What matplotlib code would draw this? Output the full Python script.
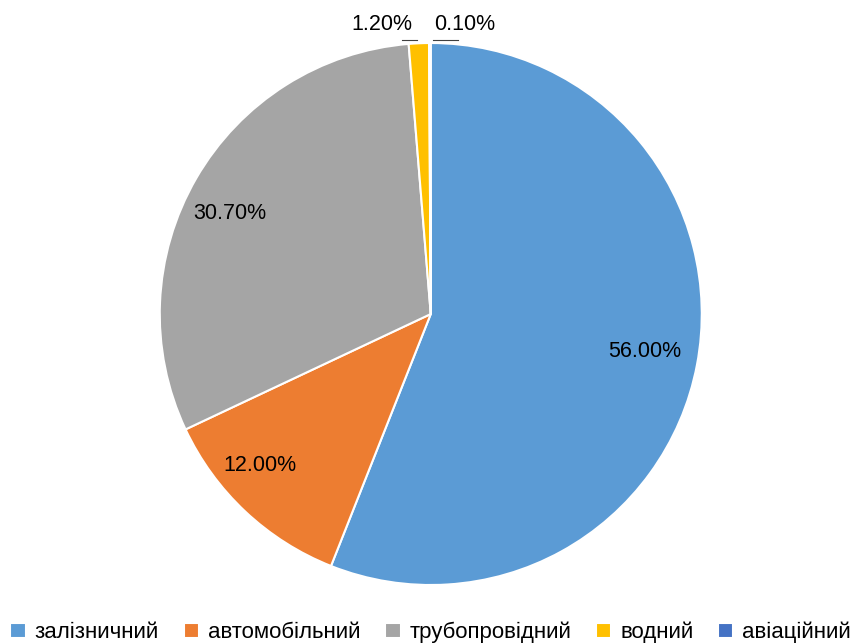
import matplotlib.pyplot as plt
import numpy as np

plt.rcParams['font.family'] = ['Liberation Sans', 'DejaVu Sans']

labels = ['залізничний', 'автомобільний', 'трубопровідний', 'водний', 'авіаційний']
shares = [56.0, 12.0, 30.7, 1.2, 0.1]
colors = ['#5B9BD5', '#ED7D31', '#A5A5A5', '#FFC000', '#4472C4']

fig = plt.figure(figsize=(8.53, 6.44), dpi=100)
ax = fig.add_axes([0.505 - 0.3177, 0.5124 - 0.4208, 0.6354, 0.8416])

wedges, texts, autotexts = ax.pie(shares, colors=colors, startangle=90, counterclock=False,
                                  autopct='%1.2f%%', pctdistance=0.8,
                                  wedgeprops=dict(edgecolor='white', linewidth=1.5),
                                  textprops=dict(fontsize=15.5))
ax.set_xlim(-1, 1)
ax.set_ylim(-1, 1)
ax.set_aspect('equal')

# manual label placement like in the Excel chart
label_pos = [(0.79, -0.14), (-0.63, -0.56), (-0.74, 0.37), (-0.18, 1.07), (0.125, 1.07)]
for t, p in zip(autotexts, label_pos):
    t.set_position(p)
    t.set_ha('center')
    t.set_va('center')
# short leader lines for the small slices
ax.plot([-0.105, -0.05], [1.01, 1.01], color='#404040', lw=0.8, clip_on=False)
ax.plot([0.01, 0.1], [1.01, 1.01], color='#404040', lw=0.8, clip_on=False)

fig.legend(wedges, labels, loc='lower center', bbox_to_anchor=(0.505, -0.03), ncol=5,
           frameon=False, fontsize=16, handlelength=0.7, handleheight=0.7,
           handletextpad=0.4, columnspacing=1.1)

plt.savefig('out.png', dpi=100)
